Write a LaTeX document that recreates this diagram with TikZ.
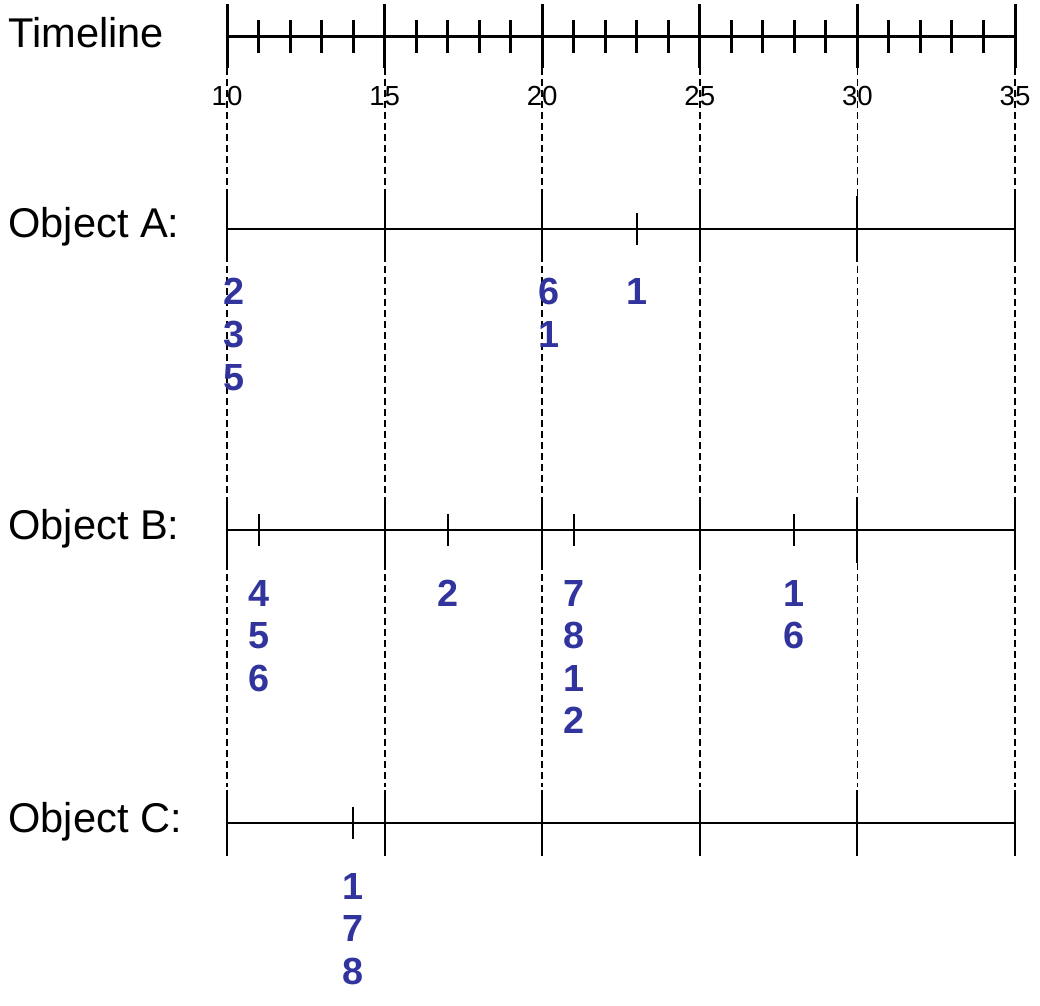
\documentclass[tikz,border=0pt]{standalone}
\usepackage{fontspec}
\setmainfont{Liberation Sans}
\usepackage{tikz}
\usetikzlibrary{positioning}
\definecolor{eventblue}{RGB}{50,52,158}
\def\MajorTick{33}
\def\MinorTick{16}
\def\LabelGap{76}
\def\LabelStep{42.5}

% blue numbers under an event: #1 tag, #2 line y, #3 x, #4 list
\newcommand\evlabels[4]{%
  \foreach \d [count=\i] in {#4}
    \node[eventlabel] (#1-\i) at (#3,{-#2-\LabelGap-\LabelStep*(\i-1)}) {\d};
}

\tikzset{
  axisline/.style={line width=1.5pt},
  rowline/.style={line width=1pt},
  guideline/.style={line width=0.9pt, dash pattern=on 3.5pt off 2pt},
  rowname/.style={anchor=base west, inner sep=0pt, font=\fontsize{20.8}{23}\selectfont},
  yearlabel/.style={inner sep=0pt, font=\fontsize{13.8}{15}\selectfont},
  eventlabel/.style={anchor=base, inner sep=0pt, text=eventblue, font=\fontsize{18.9}{21}\selectfont\bfseries},
}

\begin{document}
\begin{tikzpicture}[x=15.76pt, y=0.5pt]
\useasboundingbox (2.798,0) rectangle (35.793,-1006);

% guides
\foreach \t in {10,15,...,35} {
  \coordinate (gtop\t) at (\t,-68);
  \coordinate (gbot\t) at (\t,-787);
  \draw[guideline] (gtop\t) -- (gbot\t);
}

% timeline
\node[rowname] (timeline) at (3.052,-48) {Timeline};
\coordinate (tstart) at (10,-37);
\coordinate (tend) at (35,-37);
\draw[axisline] (tstart) -- (tend);
\foreach \t in {11,...,34}
  \draw[axisline] (\t,-20) -- (\t,-53);
\foreach \t in {10,15,...,35} {
  \draw[axisline] (\t,-4) -- (gtop\t);
  \node[yearlabel] (year\t) at (\t,-96) {\t};
}

% rows
\foreach \tag/\yy in {A/229,B/530,C/823} {
  \node[rowname] (obj\tag) at (3.052,{-\yy-9}) {Object \tag:};
  \draw[rowline] (10,-\yy) -- (35,-\yy);
  \foreach \t in {10,15,...,35}
    \draw[rowline] (\t,{-\yy+\MajorTick}) -- (\t,{-\yy-\MajorTick});
}

% Object A
\draw[rowline] (23,{-229+\MinorTick}) -- (23,{-229-\MinorTick});
\evlabels{a1}{229}{10.22}{2,3,5}
\evlabels{a2}{229}{20.22}{6,1}
\evlabels{a3}{229}{23}{1}

% Object B
\foreach \t in {11,17,21,28}
  \draw[rowline] (\t,{-530+\MinorTick}) -- (\t,{-530-\MinorTick});
\evlabels{b1}{530}{11}{4,5,6}
\evlabels{b2}{530}{17}{2}
\evlabels{b3}{530}{21}{7,8,1,2}
\evlabels{b4}{530}{28}{1,6}

% Object C
\draw[rowline] (14,{-823+\MinorTick}) -- (14,{-823-\MinorTick});
\evlabels{c1}{823}{14}{1,7,8}

\end{tikzpicture}
\end{document}
